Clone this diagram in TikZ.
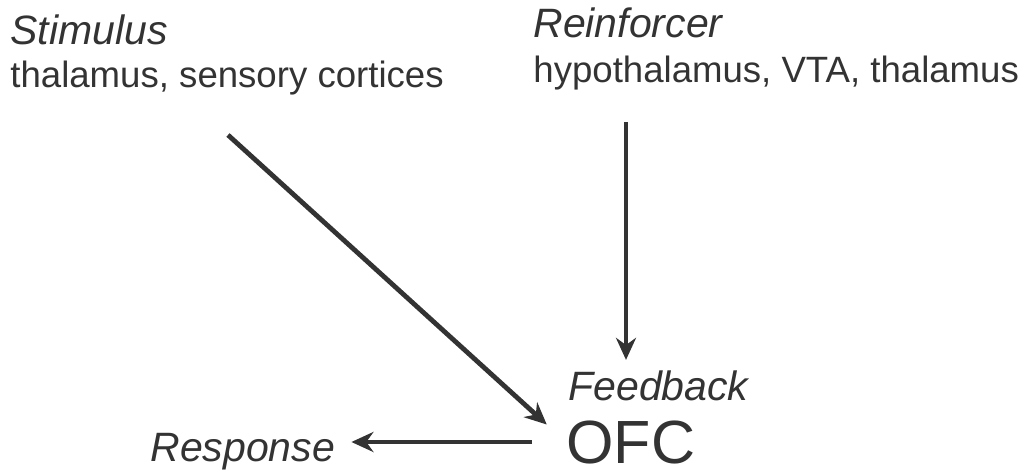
\documentclass[tikz,border=0pt]{standalone}
\usepackage{fontspec}
\setmainfont{Liberation Sans}
\usetikzlibrary{arrows.meta, positioning}
\definecolor{ofcink}{HTML}{333333}
\tikzset{
  >={Stealth[length=11pt, width=10pt]},
  lbl/.style={inner sep=0pt, text=ofcink, font=\fontsize{20.5}{24}\selectfont\itshape},
  src/.style={inner sep=0pt, text=ofcink, font=\fontsize{18.3}{22}\selectfont},
  big/.style={inner sep=0pt, text=ofcink, font=\fontsize{30.5}{36}\selectfont},
  flow/.style={->, line width=2.4pt, draw=ofcink},
}

\begin{document}
\begin{tikzpicture}[x=0.5pt, y=-0.5pt]
  \useasboundingbox (0,0) rectangle (1032,475);
  \node[lbl, anchor=base west] (stim) at (10,45) {Stimulus};
  \node[src, anchor=base west] (stimsrc) at (10,88) {thalamus, sensory cortices};
  \node[lbl, anchor=base west] (reinf) at (533,38) {Reinforcer};
  \node[src, anchor=base west] (reinfsrc) at (533,83) {hypothalamus, VTA, thalamus};
  \node[lbl, anchor=base west] (fb) at (568,400) {Feedback};
  \node[big, anchor=base west] (ofc) at (566,463) {OFC};
  \node[lbl, anchor=base west] (resp) at (150,461) {Response};
  \coordinate (stail) at (228,135);
  \coordinate (rtail) at (626,122);
  \draw[flow, shorten >=13pt] (stail) -- (ofc.west);
  \draw[flow, shorten >=5pt] (rtail) -- (rtail |- fb.north);
  \draw[flow, shorten <=17pt, shorten >=8pt] (ofc.west) -- (ofc.west -| resp.east);
\end{tikzpicture}
\end{document}
